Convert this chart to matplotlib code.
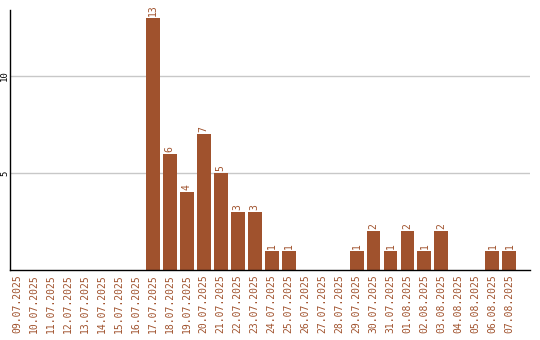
import matplotlib
matplotlib.use("Agg")
import matplotlib.pyplot as plt

# Tage und Anzahl
tage = ["09.07.2025", "10.07.2025", "11.07.2025", "12.07.2025", "13.07.2025",
        "14.07.2025", "15.07.2025", "16.07.2025", "17.07.2025", "18.07.2025",
        "19.07.2025", "20.07.2025", "21.07.2025", "22.07.2025", "23.07.2025",
        "24.07.2025", "25.07.2025", "26.07.2025", "27.07.2025", "28.07.2025",
        "29.07.2025", "30.07.2025", "31.07.2025", "01.08.2025", "02.08.2025",
        "03.08.2025", "04.08.2025", "05.08.2025", "06.08.2025", "07.08.2025"]
anzahl = [0, 0, 0, 0, 0, 0, 0, 0, 13, 6, 4, 7, 5, 3, 3, 1, 1, 0, 0, 0,
          1, 2, 1, 2, 1, 2, 0, 0, 1, 1]
y_ticks = [5, 10]

farbe = "#A0522D"

fig = plt.figure(figsize=(5.4, 3.4), dpi=100)
ax = fig.add_axes([0.0194, 0.206, 0.9616, 0.764])

x = list(range(len(tage)))
ax.bar(x, anzahl, width=0.82, color=farbe, zorder=2)

for i, v in zip(x, anzahl):
    if v > 0:
        ax.text(i, v + 0.1, str(v), rotation=90, ha="center", va="bottom",
                color=farbe, fontsize=7, family="DejaVu Sans Mono")

ax.set_xlim(-0.38, 30.2)
ax.set_ylim(0, 13.4)
ax.set_xticks(x)
ax.set_xticklabels(tage, rotation=90, color=farbe, fontsize=7,
                   family="DejaVu Sans Mono")
ax.set_yticks(y_ticks)
ax.set_yticklabels([str(t) for t in y_ticks], rotation=90, fontsize=6.5,
                   family="DejaVu Sans Mono", va="center")
ax.tick_params(axis="x", length=0, pad=3)
ax.tick_params(axis="y", length=0, pad=1)
ax.yaxis.grid(True, color="#c8c8c8", linewidth=1, zorder=0)
ax.set_axisbelow(True)
for s in ["top", "right"]:
    ax.spines[s].set_visible(False)
ax.spines["left"].set_linewidth(1)
ax.spines["bottom"].set_linewidth(1)

fig.savefig("out.png", dpi=100)
